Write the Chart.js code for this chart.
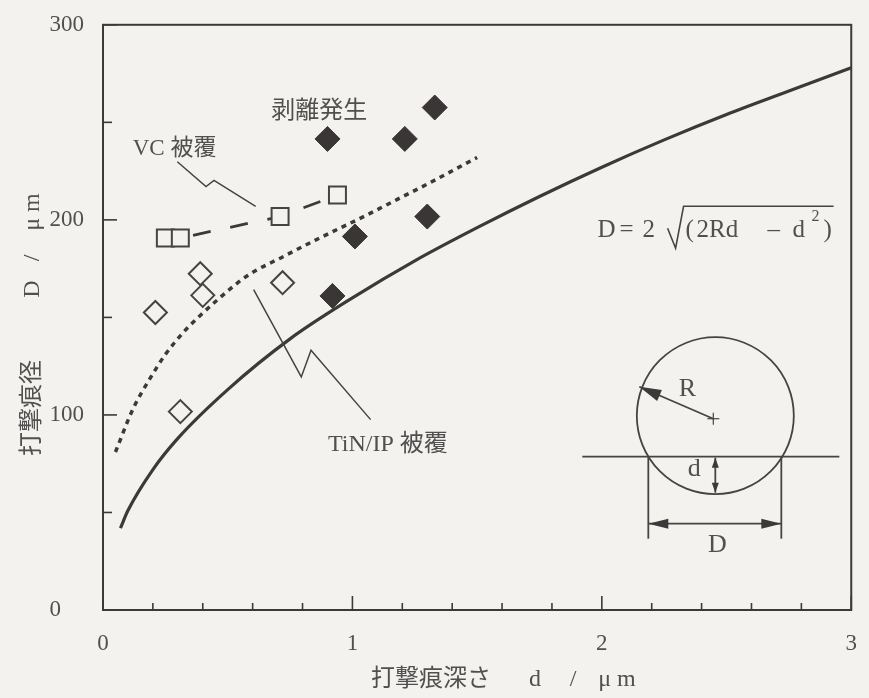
<!DOCTYPE html>
<html>
<head>
<meta charset="utf-8">
<script src="https://cdn.jsdelivr.net/npm/chart.js@4.4.1/dist/chart.umd.min.js"></script>
<style>
  html, body { margin: 0; padding: 0; background: #f3f2ee; }
  canvas { display: block; }
</style>
</head>
<body>
<canvas id="myChart" width="869" height="698"></canvas>
<script>
// 剥離発生 (filled diamonds)
const peelDepth = [0.90, 0.92, 1.01, 1.21, 1.30, 1.33];
const peelDia   = [241.5, 161, 191.5, 241.5, 201.7, 257.6];
// VC 被覆 (open squares, dashed)
const vcDepth = [0.25, 0.31, 0.71, 0.94];
const vcDia   = [190.7, 190.7, 201.7, 212.7];
// TiN/IP 被覆 (open diamonds)
const tinDepth = [0.21, 0.31, 0.39, 0.40, 0.72];
const tinDia   = [152.5, 101.7, 172.4, 161.3, 167.8];
// dotted curve
const dotDepth = [0.05, 0.12, 0.19, 0.25, 0.32, 0.39, 0.45, 0.58, 0.72, 0.85, 1.05, 1.18, 1.31, 1.50];
const dotDia   = [81, 103, 119, 131, 142, 151, 158, 171.5, 181, 189.5, 202, 210.5, 219, 232];
// solid curve D=2√(2Rd-d²)
const curveDepth = [0.07, 0.1, 0.2, 0.3, 0.5, 0.75, 1, 1.25, 1.5, 1.75, 2, 2.25, 2.5, 2.75, 3];
const curveDia   = [42, 51, 72, 88, 113, 139, 160, 179, 196, 212, 227, 241, 254, 266, 278];

// annotations (data coordinates)
const vcLeader  = [[0.298, 229.8], [0.413, 217.1], [0.445, 220.2], [0.612, 206.9]];
const tinLeader = [[0.604, 164.2], [0.795, 119.5], [0.834, 133.2], [1.073, 97.6]];
const notes = [
  { text: '剥離発生', at: [0.675, 255.3], size: 24 },
  { text: 'VC 被覆', at: [0.119, 236.4], size: 23 },
  { text: 'TiN/IP 被覆', at: [0.902, 84.9], size: 24 }
];
const formulaAt = [1.983, 194.7];
const insetAt = [2.455, 99.6];

const BG = '#f3f2ee';
const INK = '#3a3a3a';
const TXT = '#505050';
const SERIF = '"Liberation Serif", "Noto Sans CJK JP", serif';

const pts = (xs, ys) => xs.map((v, i) => ({ x: v, y: ys[i] }));

function arrowHead(ctx, tx, ty, fx, fy, len, half) {
  const a = Math.atan2(ty - fy, tx - fx);
  const bx = tx - len * Math.cos(a), by = ty - len * Math.sin(a);
  ctx.beginPath();
  ctx.moveTo(tx, ty);
  ctx.lineTo(bx + half * Math.sin(a), by - half * Math.cos(a));
  ctx.lineTo(bx - half * Math.sin(a), by + half * Math.cos(a));
  ctx.closePath();
  ctx.fill();
}

function line(ctx, p) {
  ctx.beginPath();
  ctx.moveTo(p[0][0], p[0][1]);
  for (let i = 1; i < p.length; i++) ctx.lineTo(p[i][0], p[i][1]);
  ctx.stroke();
}

const decor = {
  id: 'decor',
  beforeDraw(chart) {
    const ctx = chart.ctx;
    ctx.save();
    ctx.fillStyle = BG;
    ctx.fillRect(0, 0, chart.width, chart.height);
    ctx.restore();
  },
  afterDraw(chart) {
    const { ctx, chartArea: a, scales: { x, y } } = chart;
    const P = (v) => [x.getPixelForValue(v[0]), y.getPixelForValue(v[1])];
    ctx.save();

    // frame
    ctx.strokeStyle = INK;
    ctx.lineWidth = 2;
    ctx.strokeRect(a.left, a.top, a.right - a.left, a.bottom - a.top);

    // inward ticks
    ctx.lineWidth = 1.6;
    x.ticks.forEach(t => {
      const px = x.getPixelForValue(t.value);
      line(ctx, [[px, a.bottom], [px, a.bottom - (t.label ? 14 : 7)]]);
    });
    y.ticks.forEach(t => {
      const py = y.getPixelForValue(t.value);
      line(ctx, [[a.left, py], [a.left + (t.label ? 14 : 9), py]]);
    });

    // axis titles
    ctx.fillStyle = TXT;
    ctx.textBaseline = 'middle';
    ctx.textAlign = 'center';
    const xt = [['打撃痕深さ', 328], ['d', 432], ['/', 470], ['μ m', 514]];
    xt.forEach(([s, dx]) => {
      ctx.font = '24px ' + SERIF;
      ctx.fillText(s, a.left + dx, a.bottom + 70);
    });
    ctx.save();
    ctx.translate(a.left - 70, 0);
    ctx.rotate(-Math.PI / 2);
    const yt = [['打撃痕径', 408], ['D', 289], ['/', 258], ['μ m', 212]];
    yt.forEach(([s, py]) => {
      ctx.font = '24px ' + SERIF;
      ctx.fillText(s, -py, 0);
    });
    ctx.restore();

    // notes
    ctx.textAlign = 'left';
    notes.forEach(n => {
      const [px, py] = P(n.at);
      ctx.font = n.size + 'px ' + SERIF;
      ctx.fillText(n.text, px, py);
    });

    // leaders
    ctx.strokeStyle = '#444';
    ctx.lineWidth = 1.5;
    line(ctx, vcLeader.map(P));
    line(ctx, tinLeader.map(P));

    // formula
    const [fx, fy] = P(formulaAt);
    const parts = [['D', 0, 0, 25], ['=', 22, 0, 25], ['2', 45, 0, 25], ['(', 88, 0, 25],
      ['2Rd', 99, 0, 25], ['–', 170, 0, 25], ['d', 195, 0, 25], ['2', 214, -13, 16], [')', 226, 0, 25]];
    parts.forEach(([s, dx, dy, sz]) => {
      ctx.font = sz + 'px ' + SERIF;
      ctx.fillText(s, fx + dx, fy + dy);
    });
    ctx.lineWidth = 1.6;
    line(ctx, [[fx + 70, fy - 2], [fx + 78, fy + 18], [fx + 86, fy - 24], [fx + 236, fy - 24]]);

    // inset diagram
    const [cx, cy] = P(insetAt);
    const r = 78.5;
    ctx.lineWidth = 1.8;
    ctx.beginPath();
    ctx.arc(cx, cy, r, 0, Math.PI * 2);
    ctx.stroke();
    line(ctx, [[cx - 133, cy + 41], [cx + 124, cy + 41]]);
    line(ctx, [[cx - 67, cy + 41], [cx - 67, cy + 123]]);
    line(ctx, [[cx + 66, cy + 41], [cx + 66, cy + 123]]);
    ctx.fillStyle = INK;
    // D dimension
    line(ctx, [[cx - 67, cy + 108], [cx + 66, cy + 108]]);
    arrowHead(ctx, cx - 67, cy + 108, cx, cy + 108, 20, 5);
    arrowHead(ctx, cx + 66, cy + 108, cx, cy + 108, 20, 5);
    // d dimension
    line(ctx, [[cx, cy + 42], [cx, cy + 77]]);
    arrowHead(ctx, cx, cy + 42, cx, cy + 60, 10, 3.5);
    arrowHead(ctx, cx, cy + 77, cx, cy + 60, 10, 3.5);
    // R arrow
    const ox = cx - 2, oy = cy + 3;
    const ex = cx - 76, ey = cy - 29;
    line(ctx, [[ox, oy], [ex, ey]]);
    arrowHead(ctx, ex, ey, ox, oy, 22, 6);
    ctx.lineWidth = 1.2;
    line(ctx, [[ox - 6, oy], [ox + 6, oy]]);
    line(ctx, [[ox, oy - 6], [ox, oy + 6]]);
    ctx.fillStyle = TXT;
    ctx.textAlign = 'center';
    ctx.font = '26px ' + SERIF;
    ctx.fillText('R', cx - 28, cy - 27);
    ctx.fillText('d', cx - 21, cy + 53);
    ctx.fillText('D', cx + 2, cy + 129);

    ctx.restore();
  }
};

const tickFont = { family: SERIF, size: 23 };

new Chart(document.getElementById('myChart'), {
  type: 'scatter',
  data: {
    datasets: [
      {
        data: pts(curveDepth, curveDia), showLine: true, borderColor: INK, borderWidth: 3.2,
        pointRadius: 0, cubicInterpolationMode: 'monotone', fill: false
      },
      {
        data: pts(dotDepth, dotDia), showLine: true, borderColor: INK, borderWidth: 3.5,
        borderDash: [5, 5], pointRadius: 0, cubicInterpolationMode: 'monotone', fill: false
      },
      {
        data: pts(vcDepth, vcDia), showLine: true, borderColor: INK, borderWidth: 2.8,
        borderDash: [18, 20], borderDashOffset: 10,
        pointStyle: 'rect', pointRadius: 12, pointBorderWidth: 2,
        pointBorderColor: '#444', pointBackgroundColor: BG
      },
      {
        data: pts(tinDepth, tinDia), showLine: false,
        pointStyle: 'rectRot', pointRadius: 11.5, pointBorderWidth: 2,
        pointBorderColor: '#444', pointBackgroundColor: BG
      },
      {
        data: pts(peelDepth, peelDia), showLine: false,
        pointStyle: 'rectRot', pointRadius: 12.5, pointBorderWidth: 1,
        pointBorderColor: '#3b3636', pointBackgroundColor: '#3b3636'
      }
    ]
  },
  options: {
    responsive: false,
    animation: false,
    events: [],
    layout: { padding: { left: 0, top: 21, right: 11, bottom: 0 } },
    plugins: { legend: { display: false }, tooltip: { enabled: false } },
    scales: {
      x: {
        type: 'linear', min: 0, max: 3,
        grid: { display: false }, border: { display: false },
        ticks: {
          stepSize: 0.2, autoSkip: false, maxRotation: 0, padding: 12,
          color: TXT, font: tickFont,
          callback: v => Math.abs(v - Math.round(v)) < 1e-6 ? String(Math.round(v)) : ''
        },
        afterFit: s => { s.height = 88; }
      },
      y: {
        min: 0, max: 300,
        grid: { display: false }, border: { display: false },
        ticks: {
          stepSize: 50, autoSkip: false, padding: 11,
          color: TXT, font: tickFont,
          callback: v => v % 100 === 0 ? (v === 0 ? '0    ' : String(v)) : ''
        },
        afterFit: s => { s.width = 103; }
      }
    }
  },
  plugins: [decor]
});
</script>
</body>
</html>
